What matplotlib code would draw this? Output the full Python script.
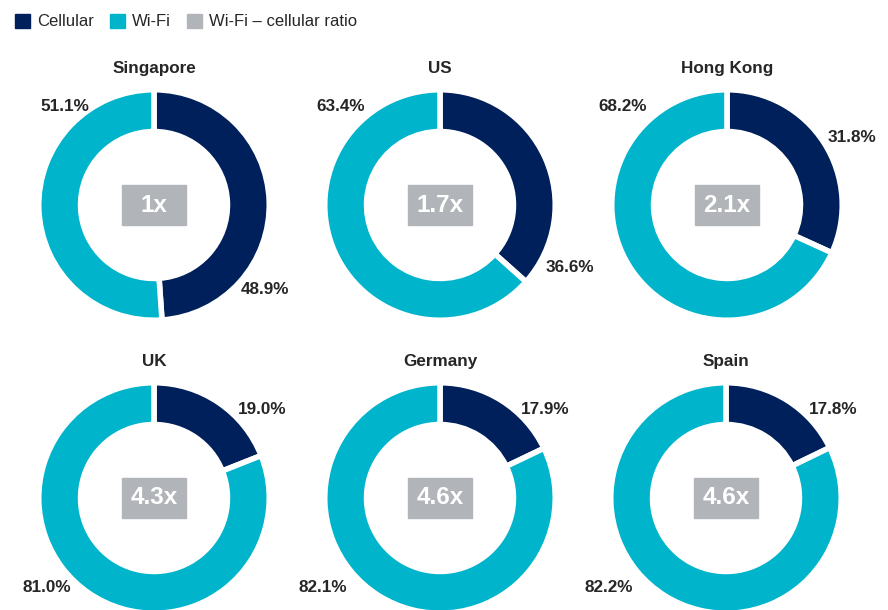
import matplotlib.pyplot as plt
from matplotlib.patches import Patch, Rectangle

plt.rcParams['font.family'] = ['Liberation Sans', 'DejaVu Sans']

countries = ['Singapore', 'US', 'Hong Kong', 'UK', 'Germany', 'Spain']
cellular = [48.9, 36.6, 31.8, 19.0, 17.9, 17.8]
wifi = [51.1, 63.4, 68.2, 81.0, 82.1, 82.2]
ratio = ['1x', '1.7x', '2.1x', '4.3x', '4.6x', '4.6x']

c_cell = '#00205b'
c_wifi = '#00b4cb'
c_ratio = '#b1b4b8'
c_text = '#262626'

W, H = 888, 610
R = 113  # donut radius in px
centers = [(154, 205), (440, 205), (727, 205),
           (154, 498), (440, 498), (726, 498)]
# label offsets (in radius units) for cellular and wifi labels
cell_pos = [(0.98, -0.75), (1.15, -0.55), (1.11, 0.60),
            (0.96, 0.78), (0.93, 0.78), (0.95, 0.78)]
wifi_pos = [(-0.79, 0.87), (-0.88, 0.87), (-0.92, 0.87),
            (-0.95, -0.79), (-1.04, -0.79), (-1.04, -0.79)]

fig = plt.figure(figsize=(W / 100, H / 100), dpi=100)
half = 150
lim = half / R

for i, name in enumerate(countries):
    cx, cy = centers[i]
    ax = fig.add_axes([(cx - half) / W, 1 - (cy + half) / H, 2 * half / W, 2 * half / H])
    ax.pie([cellular[i], wifi[i]], colors=[c_cell, c_wifi], startangle=90,
           counterclock=False, radius=1.02,
           wedgeprops=dict(width=0.37, edgecolor='white', linewidth=4))
    ax.set_xlim(-lim, lim)
    ax.set_ylim(-lim, lim)
    ax.set_aspect('equal')
    ax.axis('off')
    ax.text(0, 1.21, name, ha='center', va='center', fontsize=12.3,
            fontweight='bold', color=c_text)
    ax.text(*cell_pos[i], f'{cellular[i]:.1f}%', ha='center', va='center',
            fontsize=12.3, fontweight='bold', color=c_text)
    ax.text(*wifi_pos[i], f'{wifi[i]:.1f}%', ha='center', va='center',
            fontsize=12.3, fontweight='bold', color=c_text)
    bw, bh = 0.56, 0.36
    ax.add_patch(Rectangle((-bw / 2, -bh / 2), bw, bh, color=c_ratio, zorder=3))
    ax.text(0, 0, ratio[i], ha='center', va='center', fontsize=17.5,
            fontweight='bold', color='white', zorder=4)

handles = [Patch(color=c_cell, label='Cellular'),
           Patch(color=c_wifi, label='Wi-Fi'),
           Patch(color=c_ratio, label='Wi-Fi – cellular ratio')]
fig.legend(handles=handles, loc='upper left', bbox_to_anchor=(0.0, 1.002), ncol=3,
           frameon=False, fontsize=12, handlelength=0.9, handleheight=0.9,
           handletextpad=0.4, columnspacing=1.0, labelcolor=c_text)

fig.savefig('out.png', dpi=100)
